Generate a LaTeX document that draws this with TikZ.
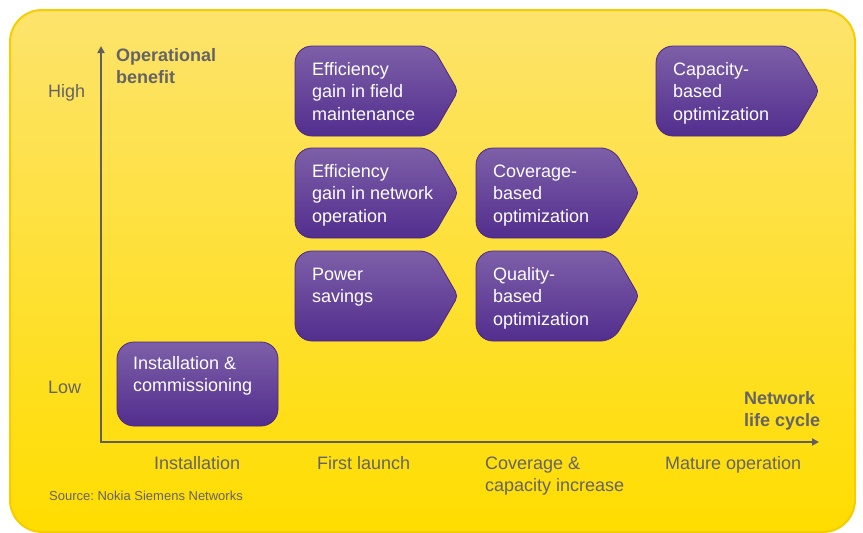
\documentclass[tikz,border=0pt]{standalone}
\usepackage{fontspec}
\setmainfont{Liberation Sans}
\frenchspacing
\usetikzlibrary{arrows.meta}
\definecolor{bgtop}{RGB}{253,227,108}
\definecolor{bgbot}{RGB}{255,221,0}
\definecolor{bgline}{RGB}{245,205,0}
\definecolor{boxtop}{RGB}{125,95,168}
\definecolor{boxbot}{RGB}{82,46,142}
\definecolor{boxline}{RGB}{76,40,132}
\definecolor{axisgray}{RGB}{95,95,95}
\definecolor{labgray}{RGB}{100,100,100}
\tikzset{
  boxshape/.style={top color=boxtop, bottom color=boxbot, draw=boxline, line width=0.8pt},
  boxtext/.style={anchor=north west, inner sep=0pt, align=left, text=white,
    font=\fontsize{18}{22.5}\selectfont},
  lab/.style={inner sep=0pt, text=labgray, font=\fontsize{18}{22.5}\selectfont},
  blab/.style={inner sep=0pt, anchor=north west, align=left, text=labgray,
    font=\fontsize{18}{22.5}\selectfont\bfseries},
  axisline/.style={draw=axisgray, line width=2.2pt, -{Triangle[length=7pt,width=7pt]}}
}
% #1 name, #2 x1, #3 y1, #4 x2, #5 y2, #6 text
\newcommand\chevbox[6]{%
  \path[boxshape] (#2,{(#3+#5)/2}) [rounded corners=17pt] -- (#2,#3) [rounded corners=12pt] -- (#4-26,#3)
    [rounded corners=5pt] -- (#4,{(#3+#5)/2}) [rounded corners=12pt] -- (#4-26,#5)
    [rounded corners=17pt] -- (#2,#5) -- cycle;
  \node[boxtext] (#1) at (#2+17,#3+15) {\rule{0pt}{14pt}#6};
}
\begin{document}
\begin{tikzpicture}[x=1pt,y=-1pt]
\useasboundingbox (0,0) rectangle (863,533);
% background
\path[top color=bgtop, bottom color=bgbot, draw=bgline, line width=2pt, rounded corners=32pt]
  (10,10) rectangle (855,532);
% axes
\coordinate (origin) at (101,442);
\coordinate (ytip) at (101,46);
\coordinate (xtip) at (819,442);
\draw[axisline] (origin) -- (ytip);
\draw[axisline] ([xshift=-1.1pt]origin) -- (xtip);
% axis labels
\node[lab, anchor=base west] (high) at (48,97) {High};
\node[lab, anchor=base west] (low) at (48,393) {Low};
\node[blab] (ylab) at (116,47) {\rule{0pt}{14pt}Operational\\benefit};
\node[blab] (xlab) at (744,390) {\rule{0pt}{14pt}Network\\life cycle};
\node[lab, anchor=base west] (c1) at (154,469) {Installation};
\node[lab, anchor=base west] (c2) at (317,469) {First launch};
\node[lab, anchor=north west, align=left] (c3) at (485,455) {\rule{0pt}{14pt}Coverage \&\\capacity increase};
\node[lab, anchor=base west] (c4) at (665,469) {Mature operation};
\node[inner sep=0pt, anchor=base west, text=labgray, font=\fontsize{13}{15}\selectfont] (src) at (49,500) {Source: Nokia Siemens Networks};
% boxes
\chevbox{b1}{295}{46}{458}{136}{Efficiency\\gain in field\\maintenance}
\chevbox{b2}{295}{148}{458}{238}{Efficiency\\gain in network\\operation}
\chevbox{b3}{295}{251}{458}{341}{Power\\savings}
\chevbox{b4}{476}{148}{639}{238}{Coverage-\\based\\optimization}
\chevbox{b5}{476}{251}{639}{341}{Quality-\\based\\optimization}
\chevbox{b6}{656}{46}{819}{136}{Capacity-\\based\\optimization}
\path[boxshape, rounded corners=17pt] (117,342) rectangle (278,426);
\node[boxtext] (b7) at (133,355) {\rule{0pt}{14pt}Installation \&\\commissioning};
\end{tikzpicture}
\end{document}
